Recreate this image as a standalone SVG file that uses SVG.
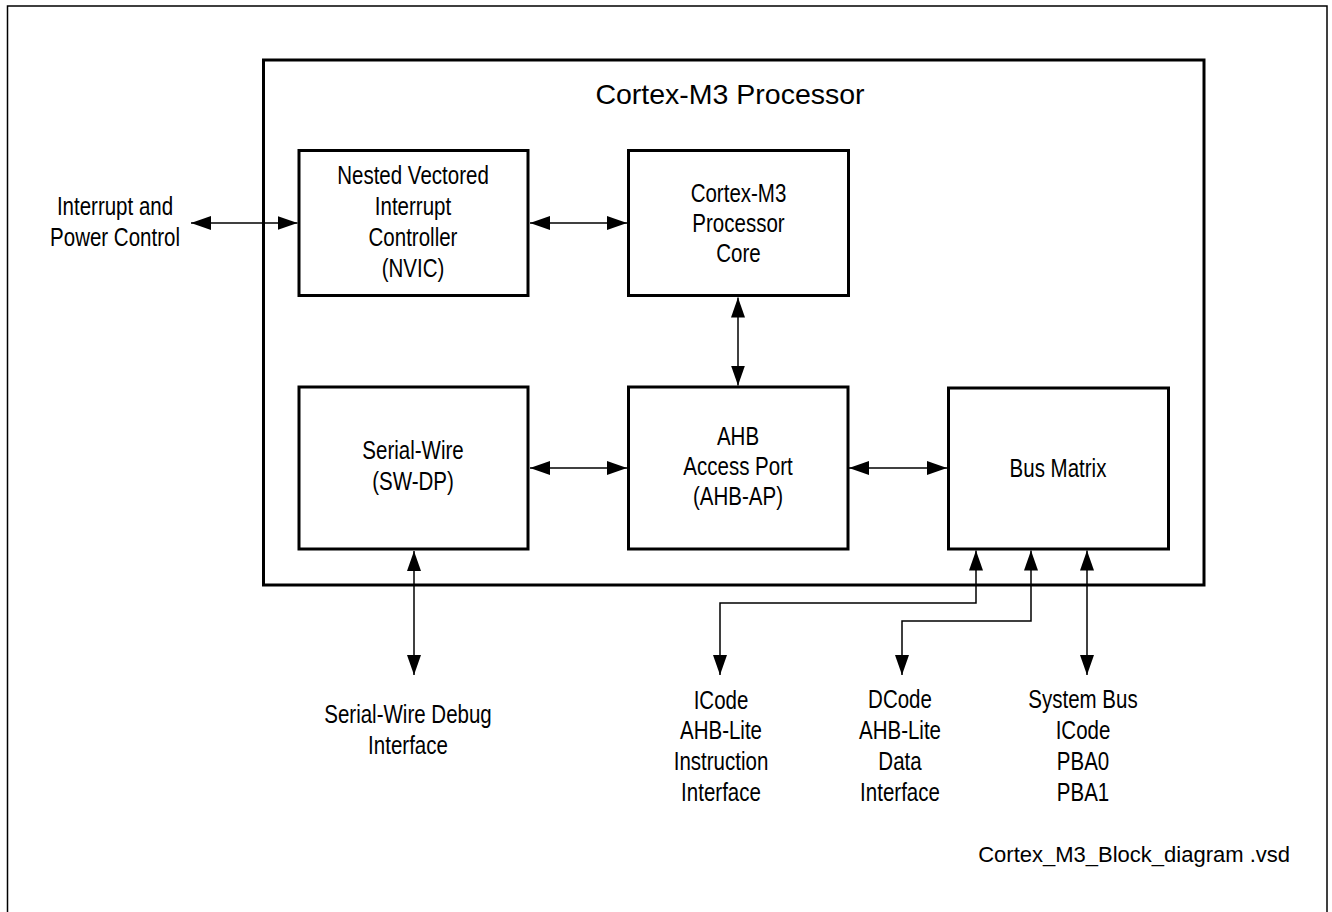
<svg xmlns="http://www.w3.org/2000/svg" width="1332" height="912" viewBox="0 0 1332 912">
<style>
.frame{fill:none;stroke:#000;stroke-width:1.5}
.box{fill:#fff;stroke:#000;stroke-width:3}
.conn{fill:none;stroke:#000;stroke-width:1.5;marker-start:url(#ah);marker-end:url(#ah)}
.t{font-family:"Liberation Sans",Arial,sans-serif;font-size:25px;fill:#000;text-anchor:middle}
.title{font-family:"Liberation Sans",Arial,sans-serif;font-size:28.5px;fill:#000;text-anchor:middle}
.file{font-family:"Liberation Sans",Arial,sans-serif;font-size:22px;fill:#000;text-anchor:end}
</style>
<defs>
<marker id="ah" viewBox="0 0 20 14" refX="20" refY="7" markerWidth="20" markerHeight="14" markerUnits="userSpaceOnUse" orient="auto-start-reverse">
<path d="M0,0 L20,7 L0,14 Z" fill="#000"/>
</marker>
</defs>
<rect width="1332" height="912" fill="#fff"/>
<rect class="frame" x="7.5" y="6" width="1319.5" height="920"/>

<g id="processor">
<rect class="box" x="263.5" y="60" width="940.5" height="525" fill="none"/>
<text class="title" x="730" y="104">Cortex-M3 Processor</text>
</g>

<g id="connectors">
<path class="conn" d="M191,223 H297.5"/>
<path class="conn" d="M530,223 H627"/>
<path class="conn" d="M738,297.5 V385.5"/>
<path class="conn" d="M530,468 H627"/>
<path class="conn" d="M849,468 H947"/>
<path class="conn" d="M414,551 V675"/>
<path class="conn" d="M976,550.5 V603 H720 V675"/>
<path class="conn" d="M1031,550.5 V621 H902 V675"/>
<path class="conn" d="M1087,550.5 V675"/>
</g>

<g id="nvic">
<rect class="box" x="299" y="150.5" width="229" height="145"/>
<g transform="translate(413 0) scale(0.82 1)">
<text class="t" x="0" y="184">Nested Vectored</text>
<text class="t" x="0" y="215">Interrupt</text>
<text class="t" x="0" y="246">Controller</text>
<text class="t" x="0" y="277">(NVIC)</text>
</g>
</g>

<g id="core">
<rect class="box" x="628.5" y="150.5" width="220" height="145"/>
<g transform="translate(738.5 0) scale(0.82 1)">
<text class="t" x="0" y="202">Cortex-M3</text>
<text class="t" x="0" y="232">Processor</text>
<text class="t" x="0" y="262">Core</text>
</g>
</g>

<g id="swdp">
<rect class="box" x="299" y="387" width="229" height="162"/>
<g transform="translate(413 0) scale(0.82 1)">
<text class="t" x="0" y="459.5">Serial-Wire</text>
<text class="t" x="0" y="490">(SW-DP)</text>
</g>
</g>

<g id="ahbap">
<rect class="box" x="628.5" y="387" width="219.5" height="162"/>
<g transform="translate(738 0) scale(0.82 1)">
<text class="t" x="0" y="445">AHB</text>
<text class="t" x="0" y="475">Access Port</text>
<text class="t" x="0" y="505">(AHB-AP)</text>
</g>
</g>

<g id="busmatrix">
<rect class="box" x="948.5" y="388" width="220" height="161"/>
<g transform="translate(1058 0) scale(0.82 1)">
<text class="t" x="0" y="477">Bus Matrix</text>
</g>
</g>

<g id="interrupt-label">
<g transform="translate(115 0) scale(0.82 1)">
<text class="t" x="0" y="215">Interrupt and</text>
<text class="t" x="0" y="246.5">Power Control</text>
</g>
</g>

<g id="swd-label">
<g transform="translate(408 0) scale(0.82 1)">
<text class="t" x="0" y="723">Serial-Wire Debug</text>
<text class="t" x="0" y="754">Interface</text>
</g>
</g>

<g id="icode-label">
<g transform="translate(721 0) scale(0.82 1)">
<text class="t" x="0" y="709">ICode</text>
<text class="t" x="0" y="739.5">AHB-Lite</text>
<text class="t" x="0" y="770.5">Instruction</text>
<text class="t" x="0" y="801.5">Interface</text>
</g>
</g>

<g id="dcode-label">
<g transform="translate(900 0) scale(0.82 1)">
<text class="t" x="0" y="708.5">DCode</text>
<text class="t" x="0" y="739.5">AHB-Lite</text>
<text class="t" x="0" y="770.5">Data</text>
<text class="t" x="0" y="801.5">Interface</text>
</g>
</g>

<g id="sysbus-label">
<g transform="translate(1083 0) scale(0.82 1)">
<text class="t" x="0" y="708.5">System Bus</text>
<text class="t" x="0" y="739.5">ICode</text>
<text class="t" x="0" y="770.5">PBA0</text>
<text class="t" x="0" y="801.5">PBA1</text>
</g>
</g>

<text class="file" x="1290" y="862">Cortex_M3_Block_diagram .vsd</text>
</svg>
